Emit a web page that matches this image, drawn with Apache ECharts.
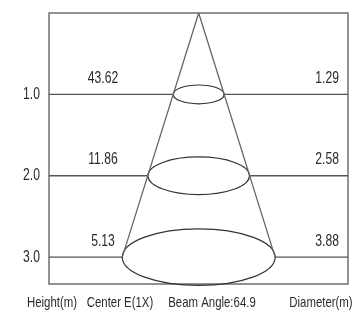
<!DOCTYPE html>
<html>
<head>
<meta charset="UTF-8">
<title>Beam</title>
<style>
    html, body { margin: 0; padding: 0; background: #fff; }
    #chart { width: 354px; height: 312px; }
</style>
</head>
<body>
<div id="chart"></div>
<script src="https://cdn.jsdelivr.net/npm/echarts@6/dist/echarts.min.js"></script>
<script>
    var heights = [1.0, 2.0, 3.0];
    var heightLabels = ['1.0', '2.0', '3.0'];
    var centerLux = ['43.62', '11.86', '5.13'];
    var diameters = ['1.29', '2.58', '3.88'];
    var beamAngle = '64.9';
    var footerLabels = ['Height(m)', 'Center E(1X)', 'Beam Angle:' + beamAngle, 'Diameter(m)'];

    // no narrow font installed, so squeeze a normal one
    var FONT = "'Liberation Sans', Arial, sans-serif";
    var SQUEEZE = 0.76;
    var X_MIN = -3.8, X_MAX = 3.79;
    var chart = echarts.init(document.getElementById('chart'));

    var r3 = +diameters[diameters.length - 1] / 2;
    var h3 = heights[heights.length - 1];

    function label(x, y, text, align, size) {
        return {
            type: 'text', x: x, y: y, scaleX: SQUEEZE,
            style: { text: text, fill: '#2b2b2b', font: size + 'px ' + FONT, align: align, verticalAlign: 'middle' }
        };
    }

    function renderRow(params, api) {
        var i = params.dataIndex;
        var h = api.value(0), d = api.value(1);
        var c = api.coord([0, h]);
        var e = api.coord([d / 2, h]);
        var rx = e[0] - c[0], ry = rx * 0.37;
        var left = api.coord([X_MIN, h])[0];
        var right = api.coord([X_MAX, h])[0];
        var lineStyle = { stroke: '#555', lineWidth: 1.3 };
        return {
            type: 'group',
            children: [
                { type: 'line', shape: { x1: left, y1: c[1], x2: c[0] - rx, y2: c[1] }, style: lineStyle },
                { type: 'line', shape: { x1: c[0] + rx, y1: c[1], x2: right, y2: c[1] }, style: lineStyle },
                { type: 'ellipse', shape: { cx: c[0], cy: c[1], rx: rx, ry: ry },
                  style: { fill: 'none', stroke: '#333', lineWidth: 1.2 } },
                label(left + 54, c[1] - 16, centerLux[i], 'center', 16),
                label(right - 9, c[1] - 16, diameters[i], 'right', 16),
                label(left - 9, c[1], heightLabels[i], 'right', 16)
            ]
        };
    }

    var footerX = [52, 120, 212, 321];
    var option = {
        animation: false,
        grid: { left: 49, right: 6, top: 13, bottom: 28, show: true, borderColor: '#6f6f6f', borderWidth: 1.5 },
        xAxis: { type: 'value', min: X_MIN, max: X_MAX, show: false },
        yAxis: {
            type: 'value', inverse: true, min: 0, max: 3.33, interval: 1,
            axisLine: { show: false }, axisTick: { show: false }, splitLine: { show: false },
            axisLabel: { show: false }
        },
        graphic: footerLabels.map(function (t, i) {
            return label(footerX[i], 303, t, 'center', 15);
        }),
        series: [
            {
                type: 'line', symbol: 'none', silent: true,
                lineStyle: { color: '#666', width: 1.3 },
                data: [[-r3, h3], [0, 0], [r3, h3]]
            },
            {
                type: 'custom', silent: true, renderItem: renderRow,
                data: heights.map(function (h, i) { return [h, +diameters[i]]; })
            }
        ]
    };
    chart.setOption(option);
</script>
</body>
</html>
